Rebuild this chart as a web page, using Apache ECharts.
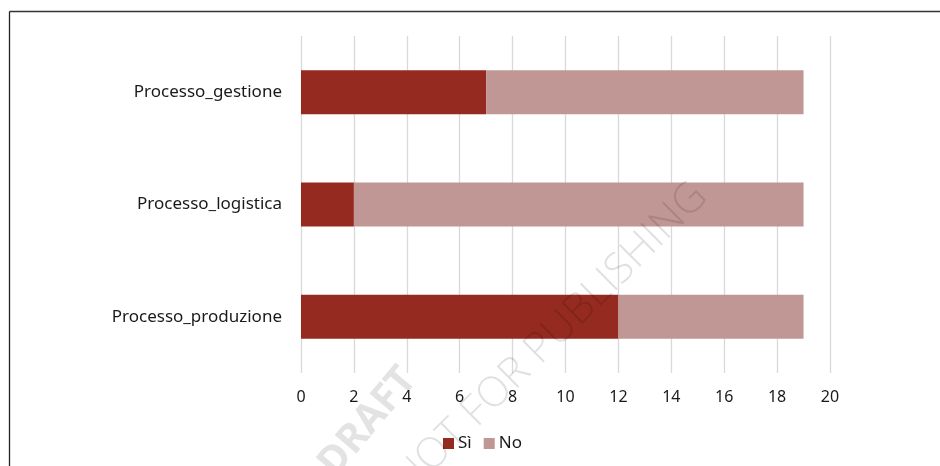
<!DOCTYPE html>
<html>
<head>
<meta charset="utf-8">
<script src="https://cdn.jsdelivr.net/npm/echarts@6/dist/echarts.min.js"></script>
<style>
html,body{margin:0;padding:0;background:#fff;}
#chart{width:940px;height:466px;}
</style>
</head>
<body>
<div id="chart"></div>
<script>
const categories = ['Processo_produzione', 'Processo_logistica', 'Processo_gestione'];
const seriesNames = ['Sì', 'No'];
const siValues = [12, 2, 7];
const noValues = [7, 17, 12];
const xTicks = [0, 2, 4, 6, 8, 10, 12, 14, 16, 18, 20];

const FONT = 'Noto Sans';
const chart = echarts.init(document.getElementById('chart'), null, {renderer: 'canvas'});
chart.setOption({
  animation: false,
  backgroundColor: '#fff',
  textStyle: {fontFamily: FONT},
  grid: {left: 301, right: 110, top: 36, bottom: 93},
  legend: {
    data: seriesNames,
    left: 438, top: 430,
    itemWidth: 11, itemHeight: 11, itemGap: 12,
    icon: 'rect',
    textStyle: {fontFamily: FONT, fontSize: 17, color: '#1a1a1a', padding: [0,0,0,-1]}
  },
  xAxis: {
    type: 'value', min: xTicks[0], max: xTicks[xTicks.length-1], interval: 2,
    axisLine: {show: false}, axisTick: {show: false},
    splitLine: {show: true, lineStyle: {color: '#d9d9d9', width: 1.3}},
    axisLabel: {fontFamily: FONT, fontSize: 16, color: '#1a1a1a', margin: 16}
  },
  yAxis: {
    type: 'category', data: categories,
    axisLine: {show: false}, axisTick: {show: false},
    axisLabel: {fontFamily: FONT, fontSize: 17, color: '#1a1a1a', margin: 19}
  },
  series: [
    {name: seriesNames[0], type: 'bar', stack: 's', data: siValues, barWidth: 44, itemStyle: {color: '#952a20'}},
    {name: seriesNames[1], type: 'bar', stack: 's', data: noValues, barWidth: 44, itemStyle: {color: '#c09794'}}
  ],
  graphic: [
    {type: 'line', shape: {x1: 9.5, y1: 11.5, x2: 940, y2: 11.5}, style: {stroke: '#333', lineWidth: 1.3}, z: 100},
    {type: 'line', shape: {x1: 9.5, y1: 11.5, x2: 9.5, y2: 466}, style: {stroke: '#222', lineWidth: 1.3}, z: 100},
    {type: 'text', x: 394, y: 360, rotation: 0.87, z: 100,
     style: {text: 'DRAFT', font: 'bold 40px "Noto Sans"', fill: 'rgba(0,0,0,0.11)', align: 'right', verticalAlign: 'top'}},
    {type: 'text', x: 686, y: 175, rotation: 0.78, z: 100,
     style: {text: 'NOT FOR PUBLISHING', font: '300 42px "Open Sans"', fill: 'rgba(0,0,0,0.12)', align: 'right', verticalAlign: 'top'}}
  ]
});
</script>
</body>
</html>
